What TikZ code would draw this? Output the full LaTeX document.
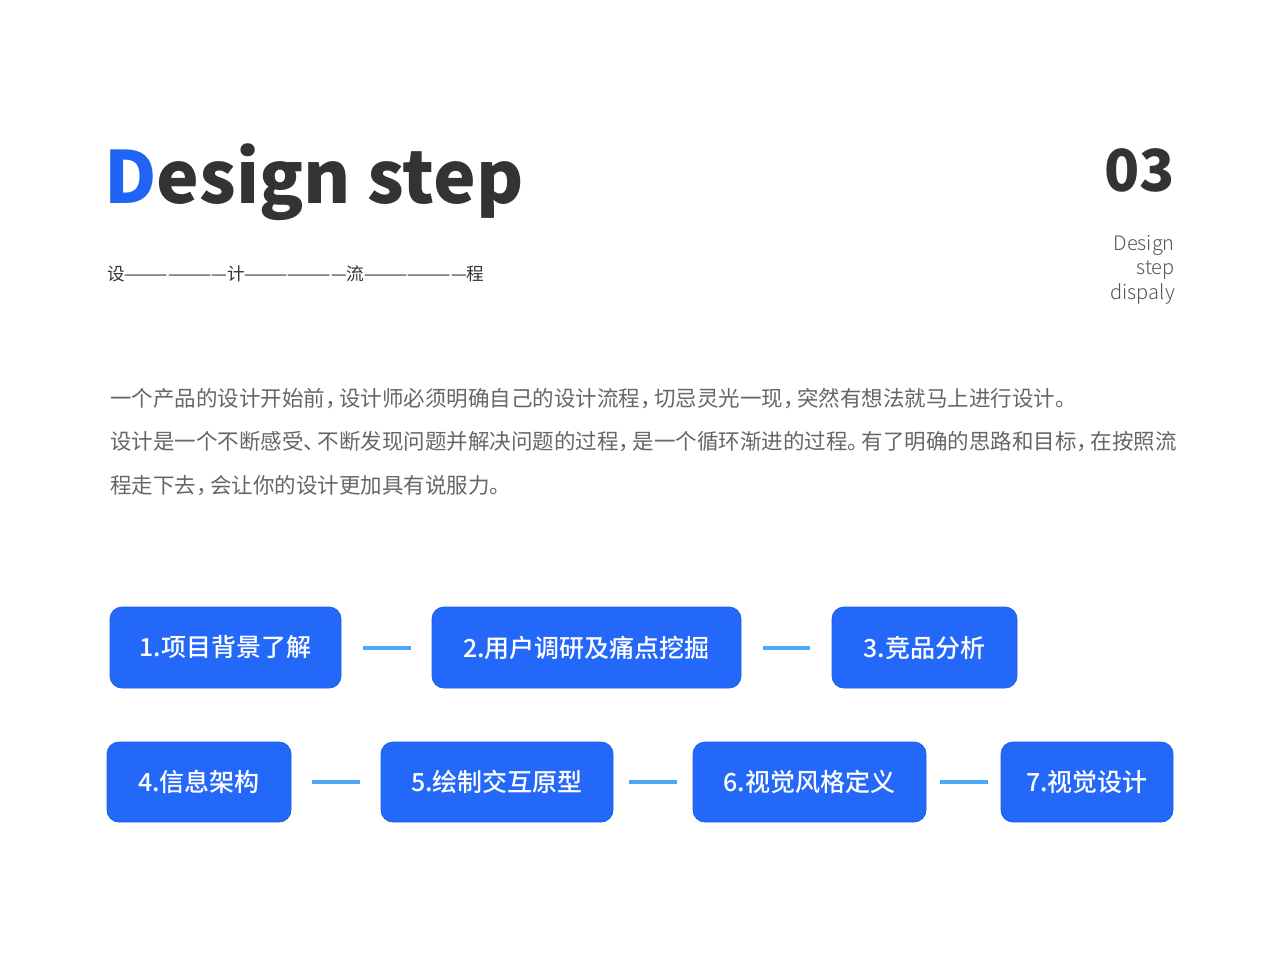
\documentclass[tikz,border=0pt]{standalone}
\usepackage{fontspec}
\setmainfont{Noto Sans CJK SC}
\newfontfamily\medfont{Noto Sans CJK SC Medium}
\newfontfamily\lightfont{Noto Sans CJK SC Light}
\definecolor{dblue}{HTML}{1E64F5}
\definecolor{titlegray}{HTML}{333333}
\definecolor{bodygray}{HTML}{666666}
\definecolor{sidegray}{HTML}{555555}
\definecolor{boxblue}{HTML}{2468FA}
\definecolor{boxedge}{HTML}{1A5EEC}
\definecolor{connblue}{HTML}{4DA8F5}
\newcommand\pz[1]{#1\kern-0.35em}
\tikzset{
  stepbox/.style={draw=boxedge, line width=0.8pt, fill=boxblue, rounded corners=12pt,
    text=white, font=\fontsize{25}{25}\medfont, inner sep=0pt},
  conn/.style={draw=connblue, line width=4pt},
  bodytext/.style={anchor=base west, inner sep=0pt, text=bodygray, font=\fontsize{21.5}{21.5}\selectfont},
  sidetext/.style={anchor=base east, inner sep=0pt, text=sidegray, font=\fontsize{20}{20}\lightfont}
}
\begin{document}
\begin{tikzpicture}[x=1pt,y=-1pt]
\useasboundingbox (0,0) rectangle (1280,960);
\fill[white] (0,0) rectangle (1280,960);

\node[anchor=base west, inner sep=0pt, text=titlegray, font=\fontsize{72}{72}\selectfont\bfseries] (title) at (104,204) {\textcolor{dblue}{D}esign step};
\node[anchor=base west, inner sep=0pt, text=titlegray, font=\fontsize{17.6}{17.6}\selectfont] (sub) at (107,280) {设———————计———————流———————程};

\node[anchor=base east, inner sep=0pt, text=titlegray, font=\fontsize{58}{58}\selectfont\bfseries] (num) at (1175,192) {03};
\node[sidetext] (s1) at (1175,251) {Design};
\node[sidetext] (s2) at (1175,275) {step};
\node[sidetext] (s3) at (1175,299) {dispaly};

\node[bodytext] (p1) at (110,406) {一个产品的设计开始前\pz{，}设计师必须明确自己的设计流程\pz{，}切忌灵光一现\pz{，}突然有想法就马上进行设计。};
\node[bodytext] (p2) at (110,449) {设计是一个不断感受\pz{、}不断发现问题并解决问题的过程\pz{，}是一个循环渐进的过程\pz{。}有了明确的思路和目标\pz{，}在按照流};
\node[bodytext] (p3) at (110,493) {程走下去\pz{，}会让你的设计更加具有说服力。};

\node[stepbox, minimum width=231pt, minimum height=81pt] (b1) at (225.5,647.5) {1.项目背景了解};
\node[stepbox, minimum width=309pt, minimum height=81pt] (b2) at (586.5,647.5) {2.用户调研及痛点挖掘};
\node[stepbox, minimum width=185pt, minimum height=81pt] (b3) at (924.5,647.5) {3.竞品分析};
\node[stepbox, minimum width=184pt, minimum height=80pt] (b4) at (199,782) {4.信息架构};
\node[stepbox, minimum width=232pt, minimum height=80pt] (b5) at (497,782) {5.绘制交互原型};
\node[stepbox, minimum width=233pt, minimum height=80pt] (b6) at (809.5,782) {6.视觉风格定义};
\node[stepbox, minimum width=172pt, minimum height=80pt] (b7) at (1087,782) {7.视觉设计};

\draw[conn, shorten <=22pt, shorten >=21pt] (b1.east) -- (b2.west);
\draw[conn, shorten <=22pt, shorten >=22pt] (b2.east) -- (b3.west);
\draw[conn, shorten <=21pt, shorten >=21pt] (b4.east) -- (b5.west);
\draw[conn, shorten <=16pt, shorten >=16pt] (b5.east) -- (b6.west);
\draw[conn, shorten <=14pt, shorten >=13pt] (b6.east) -- (b7.west);
\end{tikzpicture}
\end{document}
